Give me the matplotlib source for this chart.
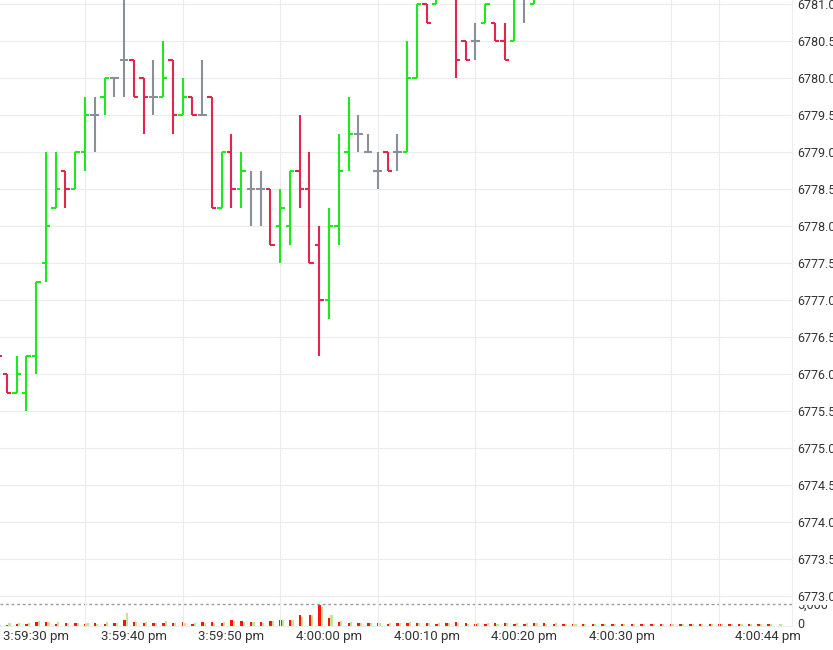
import matplotlib
matplotlib.use('Agg')
import matplotlib.pyplot as plt
import matplotlib.transforms as mtransforms
import numpy as np

plt.rcParams['font.family'] = ['Roboto', 'DejaVu Sans']

# seconds relative to 4:00:00 pm, one OHLC bar per second
secs = list(range(-34, 22))
opens = [6776.5, 6776.0, 6775.75, 6775.75, 6776.25, 6777.5, 6778.25, 6778.75, 6778.5, 6779.0,
         6779.5, 6779.75, 6780.0, 6780.25, 6780.25, 6780.0, 6779.75, 6779.75, 6780.25, 6779.5,
         6779.75, 6779.5, 6779.75, 6778.25, 6779.0, 6778.5, 6778.5, 6778.5, 6778.5, 6778.0,
         6778.0, 6778.75, 6778.5, 6777.75, 6777.0, 6778.0, 6779.0, 6779.25, 6779.0, 6778.75,
         6779.0, 6779.0, 6779.0, 6780.0, 6781.0, 6781.0, 6781.5, 6781.5, 6780.5, 6780.5,
         6780.75, 6780.75, 6780.5, 6780.5, 6781.25, 6781.0]
highs = [6776.5, 6776.0, 6776.25, 6776.25, 6777.25, 6779.0, 6779.0, 6778.75, 6779.0, 6779.75,
         6779.75, 6780.0, 6780.0, 6781.5, 6780.25, 6780.0, 6780.25, 6780.5, 6780.25, 6780.0,
         6779.75, 6780.25, 6779.75, 6779.0, 6779.25, 6779.0, 6778.75, 6778.75, 6778.5, 6778.5,
         6778.75, 6779.5, 6779.0, 6778.0, 6778.25, 6779.25, 6779.75, 6779.5, 6779.25, 6779.0,
         6779.0, 6779.25, 6780.5, 6781.0, 6781.0, 6781.5, 6781.75, 6781.75, 6780.5, 6780.75,
         6781.0, 6780.75, 6780.75, 6781.25, 6781.5, 6781.5]
lows = [6776.25, 6775.75, 6775.75, 6775.5, 6776.0, 6777.25, 6778.25, 6778.25, 6778.5, 6778.75,
        6779.0, 6779.5, 6779.75, 6779.75, 6779.75, 6779.25, 6779.5, 6779.75, 6779.25, 6779.5,
        6779.5, 6779.5, 6778.25, 6778.25, 6778.25, 6778.25, 6778.0, 6778.0, 6777.75, 6777.5,
        6777.75, 6778.25, 6777.5, 6776.25, 6776.75, 6777.75, 6778.75, 6779.0, 6779.0, 6778.5,
        6778.75, 6778.75, 6779.0, 6780.0, 6780.75, 6781.0, 6781.25, 6780.0, 6780.25, 6780.25,
        6780.75, 6780.5, 6780.25, 6780.5, 6780.75, 6781.0]
closes = [6776.25, 6775.75, 6776.0, 6776.25, 6777.25, 6778.0, 6778.5, 6778.5, 6779.0, 6779.5,
          6779.5, 6780.0, 6780.0, 6780.25, 6779.75, 6779.75, 6779.75, 6780.0, 6779.5, 6779.75,
          6779.5, 6779.5, 6778.25, 6779.0, 6778.5, 6778.75, 6778.5, 6778.5, 6777.75, 6778.25,
          6778.75, 6778.5, 6777.5, 6777.0, 6778.0, 6778.75, 6779.25, 6779.25, 6779.0, 6778.75,
          6778.75, 6779.0, 6780.0, 6781.0, 6780.75, 6781.25, 6781.5, 6780.25, 6780.25, 6780.5,
          6781.0, 6780.5, 6780.25, 6781.25, 6781.25, 6781.25]

# volume per second (sell / buy)
vol_secs = list(range(-34, 47))
sell_vol = [225, 300, 375, 450, 900, 900, 450, 600, 600, 450, 600, 450, 600, 1350, 900, 750,
            600, 600, 600, 900, 450, 900, 900, 750, 1350, 1050, 900, 900, 1125, 1350, 1350, 2400,
            2400, 4800, 1875, 900, 600, 750, 600, 750, 450, 600, 600, 600, 600, 450, 600, 900,
            600, 450, 450, 600, 600, 450, 450, 600, 600, 450, 400, 375, 400, 375, 350, 400,
            375, 400, 375, 350, 375, 400, 375, 375, 400, 375, 350, 375, 400, 375, 375, 400, 0]
buy_vol = [225, 600, 600, 600, 1050, 900, 900, 600, 600, 750, 450, 900, 750, 2850, 900, 900,
           600, 1050, 600, 600, 600, 600, 600, 900, 1050, 900, 900, 750, 1125, 1350, 1350, 1950,
           2600, 4350, 2500, 1125, 900, 600, 600, 600, 600, 600, 900, 600, 600, 600, 600, 600,
           450, 600, 600, 450, 600, 600, 600, 600, 450, 600, 375, 400, 375, 375, 400, 350,
           375, 400, 375, 375, 350, 400, 375, 375, 400, 375, 375, 350, 400, 375, 375, 400, 375]

tick_secs = [-30, -20, -10, 0, 10, 20, 30, 45]
tick_labels = ["3:59:30 pm", "3:59:40 pm", "3:59:50 pm", "4:00:00 pm",
               "4:00:10 pm", "4:00:20 pm", "4:00:30 pm", "4:00:44 pm"]

GREEN = '#1fe81f'
RED = '#e3264d'
GREY = '#8a8f98'

W, H = 833, 650
def box(l, t, r, b):
    return [l / W, 1 - b / H, (r - l) / W, (b - t) / H]

fig = plt.figure(figsize=(W / 100, H / 100), dpi=100)
axv = fig.add_axes(box(0, 604, 792, 626))
ax = fig.add_axes(box(0, 0, 792, 626))
ax.set_facecolor('none')

px_per_sec = 9.76
xlim = (-329 / px_per_sec, (792 - 329) / px_per_sec)

# volume pane
vs = np.array(vol_secs)
axv.bar(vs - 0.1, sell_vol, width=0.25, align='edge', color='#ff1010', lw=0)
axv.bar(vs + 0.15, buy_vol, width=0.22, align='edge', color='#bce890', lw=0)
axv.set_xlim(*xlim)
axv.set_ylim(0, 5000)
axv.axhline(5000, color='#9a9a9a', lw=1, ls=(0, (2, 2)), clip_on=False)
for s in axv.spines.values():
    s.set_visible(False)
axv.set_xticks([])
axv.yaxis.tick_right()
axv.set_yticks([0, 5000], ['0', '5,000'])
axv.tick_params(axis='y', length=0, pad=4, labelsize=9, labelcolor='#333333')
zero_lbl = axv.get_yticklabels()[0]
zero_lbl.set_transform(zero_lbl.get_transform() +
                       mtransforms.ScaledTranslation(0, 3 / 100, fig.dpi_scale_trans))

# price pane
s = np.array(secs)
o = np.array(opens); c = np.array(closes)
cols = [GREEN if cc > oo else RED if cc < oo else GREY for oo, cc in zip(o, c)]
ax.vlines(s, lows, highs, colors=cols, lw=1.5, capstyle='butt', zorder=3)
ax.hlines(o, s - 0.45, s, colors=cols, lw=1.5, capstyle='butt', zorder=3)
ax.hlines(c, s, s + 0.45, colors=cols, lw=1.5, capstyle='butt', zorder=3)

ax.set_xlim(*xlim)
ax.set_ylim(6781 - 622 / 74, 6781 + 4 / 74)
ax.set_xticks(tick_secs, tick_labels)
ax.set_xticks(np.arange(-30, 46, 5), minor=True)
yt = np.arange(6773, 6781.01, 0.5)
ax.set_yticks(yt, [f"{v:.1f}" for v in yt])
ax.yaxis.tick_right()
ax.tick_params(axis='y', length=0, pad=4, labelsize=9, labelcolor='#333333')
ax.tick_params(axis='x', which='both', length=0, pad=3, labelsize=9.5, labelcolor='#333333')
ax.grid(which='minor', axis='x', color='#ececec', lw=0.8)
ax.grid(which='major', axis='y', color='#ececec', lw=0.8)
ax.set_axisbelow(True)
for lbl in ax.get_yticklabels():
    lbl.set_bbox(dict(facecolor='white', edgecolor='none', pad=1))
ax.spines['top'].set_visible(False)
ax.spines['left'].set_visible(False)
ax.spines['right'].set_color('#eeeeee')
ax.spines['bottom'].set_color('#eeeeee')

fig.savefig('out.png', dpi=100)
